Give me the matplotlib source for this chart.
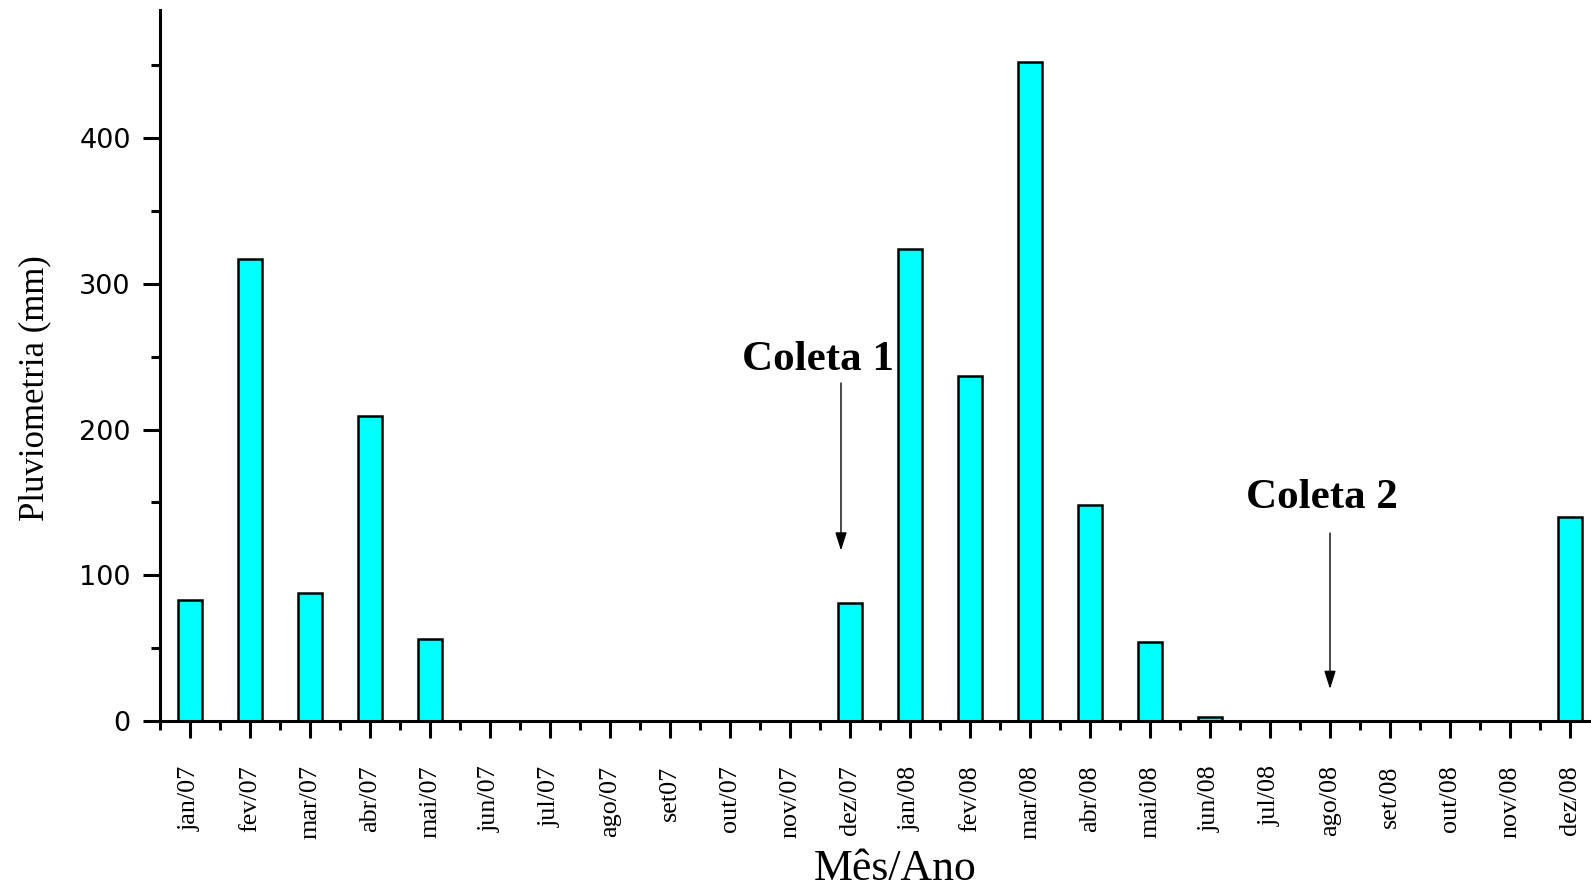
import matplotlib
matplotlib.use("Agg")
import matplotlib.pyplot as plt
from matplotlib.ticker import MultipleLocator, FixedLocator

# Monthly rainfall, Jan 2007 - Dec 2008
months = ["jan/07", "fev/07", "mar/07", "abr/07", "mai/07", "jun/07", "jul/07",
          "ago/07", "set07", "out/07", "nov/07", "dez/07",
          "jan/08", "fev/08", "mar/08", "abr/08", "mai/08", "jun/08", "jul/08",
          "ago/08", "set/08", "out/08", "nov/08", "dez/08"]
rain_mm = [83, 317, 88, 209, 56, 0, 0, 0, 0, 0, 0, 81,
           324, 237, 452, 148, 54, 3, 0, 0, 0, 0, 0, 140]

# Sampling campaigns: label, label position (x, baseline y), arrow x, arrow top, arrow tip
campaign_labels = ["Coleta 1", "Coleta 2"]
campaign_text_xy = [(10.46, 241), (18.86, 146)]
campaign_arrow_x = [10.85, 19.0]
campaign_arrow_top = [232, 129]
campaign_arrow_tip = [117, 22]

W, H = 1591, 886
fig = plt.figure(figsize=(W / 100, H / 100), dpi=100)
ax = fig.add_axes([160 / W, 1 - 721 / H, (W - 160) / W, (721 - 10) / H])

x = list(range(len(months)))
ax.bar(x, rain_mm, width=0.4, color="#00FFFF", edgecolor="black", linewidth=1.8, zorder=2)

ax.set_xlim(-0.5, 23.35)
ax.set_ylim(0, 488)

for s in ("top", "right"):
    ax.spines[s].set_visible(False)
for s in ("left", "bottom"):
    ax.spines[s].set_linewidth(2.2)

serif = "Liberation Serif"
ax.set_xticks(x)
ax.set_xticklabels(months, rotation=90, fontsize=18.8, family=serif, va="top")
ax.xaxis.set_minor_locator(FixedLocator([i - 0.5 for i in range(len(months))]))
ax.yaxis.set_major_locator(MultipleLocator(100))
ax.yaxis.set_minor_locator(MultipleLocator(50))
ax.tick_params(axis="both", which="major", direction="out", length=12, width=2.2)
ax.tick_params(axis="both", which="minor", direction="out", length=6.5, width=2.2)
ax.tick_params(axis="x", which="major", pad=20)
ax.tick_params(axis="y", which="major", pad=9, labelsize=19.5)
for lbl in ax.get_yticklabels():
    lbl.set_family("DejaVu Sans")

ax.set_ylabel("Pluviometria (mm)", family=serif, fontsize=25)
ax.yaxis.set_label_coords(-0.076, 0.468)
ax.set_xlabel("Mês/Ano", family=serif, fontsize=31.5)
ax.xaxis.set_label_coords(0.514, -0.180)

for label, (tx, ty), xm, ytop, ytip in zip(campaign_labels, campaign_text_xy,
                                          campaign_arrow_x, campaign_arrow_top,
                                          campaign_arrow_tip):
    ax.annotate("", xy=(xm, ytip), xytext=(xm, ytop),
                arrowprops=dict(arrowstyle="-|>,head_length=1.1,head_width=0.35",
                                color="black", lw=1.0, shrinkA=0, shrinkB=0))
    ax.text(tx, ty, label, family=serif, fontweight="bold",
            fontsize=31, ha="center", va="baseline")

fig.savefig("out.png", dpi=100)
